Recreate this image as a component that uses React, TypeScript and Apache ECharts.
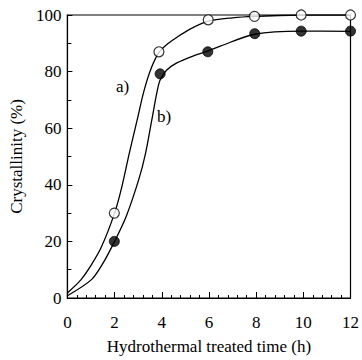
import React, { useEffect, useRef } from "react";
import * as echarts from "echarts";

const timesA = [1.99, 3.88, 5.97, 7.93, 9.91, 12];
const valuesA = [30, 87, 98.3, 99.5, 100, 100];
const timesB = [1.99, 3.93, 5.95, 7.94, 9.91, 12];
const valuesB = [20, 79.2, 87, 93.4, 94.3, 94.3];

const curveAx = [0, 0.58, 1.0, 1.44, 2, 2.3, 2.62, 2.96, 3.24, 3.52, 3.86, 4.2, 4.62, 5.2, 5.97, 7.0, 7.93, 10, 12];
const curveAy = [1.8, 6.5, 11.5, 18, 30, 39, 51, 63, 73, 80.5, 86.5, 89.5, 92, 95, 97.8, 99, 99.5, 100, 100];
const curveBx = [0, 1.02, 1.51, 2, 2.5, 3.03, 3.31, 3.58, 3.79, 3.93, 4.2, 4.62, 5.32, 5.94, 6.48, 7.94, 9.91, 12];
const curveBy = [0.8, 6.5, 12.3, 20, 29, 42, 51, 63, 72.5, 77, 80.5, 83, 85.5, 87.2, 89, 93.2, 94.3, 94.2];

const xTicks = { min: 0, max: 12, interval: 2 };
const yTicks = { min: 0, max: 100, interval: 20 };

const FONT = "Liberation Serif";

export default function App() {
  const ref = useRef<HTMLDivElement>(null);
  useEffect(() => {
    if (!ref.current) return;
    const chart = echarts.init(ref.current, undefined, { renderer: "svg" });
    const zip = (xs: number[], ys: number[]) => xs.map((x, i) => [x, ys[i]]);
    chart.setOption({
      animation: false,
      backgroundColor: "#fff",
      textStyle: { fontFamily: FONT },
      grid: { left: 62, right: 11, top: 15, bottom: 58, show: true, borderColor: "#000", borderWidth: 1.2, backgroundColor: "transparent" },
      xAxis: {
        type: "value",
        ...xTicks,
        name: "Hydrothermal treated time (h)",
        nameLocation: "middle",
        nameGap: 40,
        nameTextStyle: { fontFamily: FONT, fontSize: 17, color: "#000" },
        axisLine: { show: true, lineStyle: { color: "#000", width: 1.2 } },
        axisTick: { show: true, inside: true, length: 6, lineStyle: { color: "#000" } },
        minorTick: { show: true, splitNumber: 5, length: 3, lineStyle: { color: "#000" } },
        splitLine: { show: false },
        axisLabel: { fontFamily: FONT, fontSize: 17, color: "#000", margin: 16 },
      },
      yAxis: {
        type: "value",
        ...yTicks,
        name: "Crystallinity (%)",
        nameLocation: "middle",
        nameGap: 38,
        nameTextStyle: { fontFamily: FONT, fontSize: 17, color: "#000" },
        axisLine: { show: true, lineStyle: { color: "#000", width: 1.2 } },
        axisTick: { show: true, inside: true, length: 5, lineStyle: { color: "#000" } },
        minorTick: { show: true, splitNumber: 2, length: 4, lineStyle: { color: "#000" } },
        splitLine: { show: false },
        axisLabel: { fontFamily: FONT, fontSize: 17, color: "#000", margin: 6 },
      },
      graphic: [
        { type: "text", left: 116, top: 78, style: { text: "a)", fontFamily: FONT, fontSize: 17, fill: "#000" } },
        { type: "text", left: 157, top: 108, style: { text: "b)", fontFamily: FONT, fontSize: 17, fill: "#000" } },
      ],
      series: [
        {
          type: "line",
          data: zip(curveAx, curveAy),
          smooth: 0.3,
          showSymbol: false,
          symbol: "none",
          lineStyle: { color: "#000", width: 1.3 },
          z: 2,
        },
        {
          type: "line",
          data: zip(curveBx, curveBy),
          smooth: 0.3,
          showSymbol: false,
          symbol: "none",
          lineStyle: { color: "#000", width: 1.3 },
          z: 2,
        },
        {
          type: "scatter",
          data: zip(timesA, valuesA),
          symbol: "circle",
          symbolSize: 10,
          itemStyle: { color: "#fff", borderColor: "#000", borderWidth: 1.2 },
          z: 5,
        },
        {
          type: "scatter",
          data: zip(timesB, valuesB),
          symbol: "circle",
          symbolSize: 10,
          itemStyle: { color: "#000", borderColor: "#000", borderWidth: 1 },
          z: 5,
        },
      ],
    });
    return () => chart.dispose();
  }, []);
  return <div ref={ref} style={{ width: 362, height: 360, position: "absolute", left: 0, top: 0 }} />;
}
